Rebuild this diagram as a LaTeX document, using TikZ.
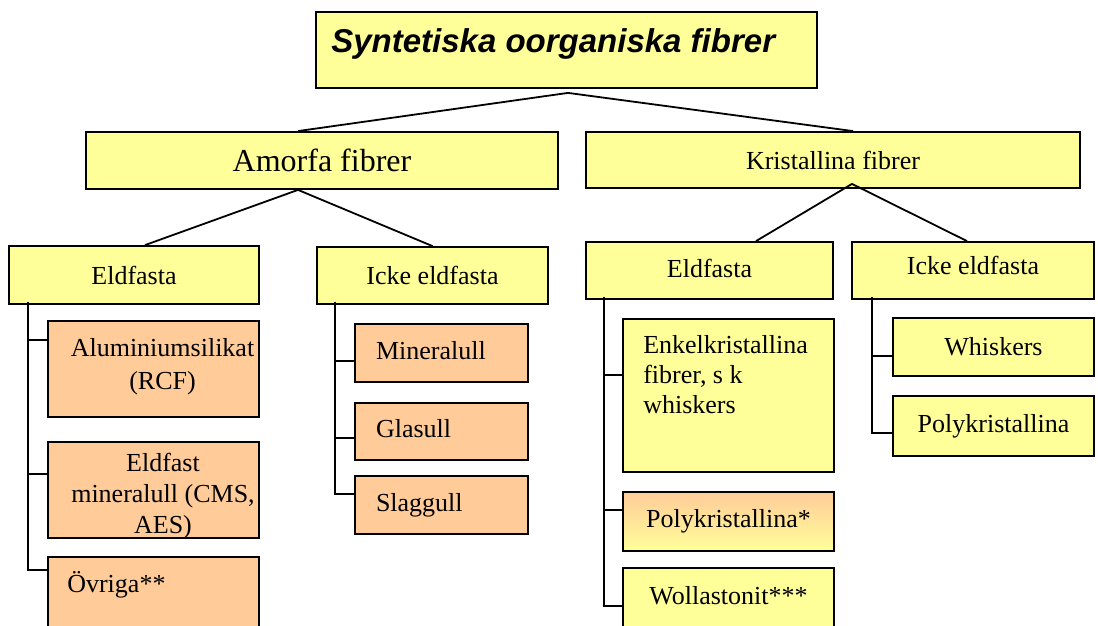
\documentclass[tikz,border=0pt]{standalone}
\usepackage{fontspec}
\setmainfont{Liberation Serif}
\newfontfamily\rubrikfont{Liberation Sans}
\usepackage{tikz}
\definecolor{gulfarg}{HTML}{FFFF99}
\definecolor{orangefarg}{HTML}{FFCC99}

\begin{document}
\begin{tikzpicture}[x=1pt,y=-1pt,
	ruta/.style={draw=black, line width=1.8pt, inner sep=0pt, font=\fontsize{26}{31}\selectfont},
	gruta/.style={ruta, fill=gulfarg},
	oruta/.style={ruta, fill=orangefarg},
	vtext/.style={text width=131pt, align=left, inner xsep=21pt, text height=18pt, text depth=6pt},
	linje/.style={line width=1.8pt}]
		\clip (0,0) rectangle (1098,626);
		
		% Rubrik
		\node[gruta, minimum width=501pt, minimum height=76pt] (rubrik) at (566.5,50) {};
		\node[anchor=base west, inner sep=0pt, font=\rubrikfont\bfseries\itshape\fontsize{33}{38}\selectfont] (rubriktext) at ([xshift=16pt,yshift=-41pt]rubrik.north west) {Syntetiska oorganiska fibrer};
		
		% Amorfa och kristallina
		\node[gruta, minimum width=472pt, minimum height=57pt, font=\fontsize{32}{38}\selectfont] (amorfa) at (322,160.5) {Amorfa fibrer};
		\node[gruta, minimum width=494pt, minimum height=56pt] (kristallina) at (833,160) {Kristallina fibrer};
		\coordinate (rubrikfot) at ([xshift=1.5pt,yshift=-4pt]rubrik.south);
		\draw[linje] ([xshift=-24pt]amorfa.north) -- (rubrikfot) -- ([xshift=20pt]kristallina.north);
		
		% Eldfasta / icke eldfasta
		\node[gruta, minimum width=250pt, minimum height=58pt] (eldfastA) at (134,275) {Eldfasta};
		\node[gruta, minimum width=231pt, minimum height=57pt] (ickeA) at (432.5,275.5) {Icke eldfasta};
		\node[gruta, minimum width=247pt, minimum height=57pt, text depth=5pt] (eldfastK) at (709.5,270.5) {Eldfasta};
		\node[gruta, minimum width=242pt, minimum height=57pt, text depth=10pt] (ickeK) at (973,270.5) {Icke eldfasta};
		\coordinate (amorfafot) at ([xshift=-24pt]amorfa.south);
		\coordinate (kristfot) at ([xshift=19pt,yshift=5pt]kristallina.south);
		\draw[linje] ([xshift=11pt]eldfastA.north) -- (amorfafot) -- (ickeA.north);
		\draw[linje] ([xshift=46.5pt]eldfastK.north) -- (kristfot) -- ([xshift=-6pt]ickeK.north);
		
		% Amorfa, eldfasta
		\node[oruta, minimum width=211pt, minimum height=96pt] (alusil) at (153.5,369) {};
		\node[oruta, minimum width=211pt, minimum height=96pt] (eldmin) at (153.5,490) {};
		\node[oruta, minimum width=211pt, minimum height=100pt] (ovriga) at (153.5,607) {};
		\node[align=center, inner sep=0pt, font=\fontsize{26}{33}\selectfont] (alusiltext) at (162.5,367) {Aluminiumsilikat\\(RCF)};
		\node[align=center, inner sep=0pt, font=\fontsize{26}{31}\selectfont] (eldmintext) at (163,496) {Eldfast\\mineralull (CMS,\\AES)};
		\node[anchor=base west, inner sep=0pt, font=\fontsize{26}{31}\selectfont] (ovrigatext) at ([xshift=20pt,yshift=-36pt]ovriga.north west) {Övriga**};
		\coordinate (stamA) at ([xshift=20pt,yshift=3pt]eldfastA.south west);
		\draw[linje] (stamA) |- ([yshift=-20pt]alusil.north west);
		\draw[linje] (stamA) |- ([yshift=-33pt]eldmin.north west);
		\draw[linje] (stamA) |- ([yshift=-14pt]ovriga.north west);
		
		% Amorfa, icke eldfasta
		\node[oruta, vtext, minimum width=173pt, minimum height=58pt] (mineralull) at (441.5,353) {Mineralull};
		\node[oruta, vtext, minimum width=173pt, minimum height=57pt] (glasull) at (441.5,431.5) {Glasull};
		\node[oruta, vtext, minimum width=173pt, minimum height=58pt] (slaggull) at (441.5,505) {Slaggull};
		\coordinate (stamI) at ([xshift=19pt,yshift=3pt]ickeA.south west);
		\draw[linje] (stamI) |- ([yshift=-38pt]mineralull.north west);
		\draw[linje] (stamI) |- ([yshift=-36pt]glasull.north west);
		\draw[linje] (stamI) |- ([yshift=-19pt]slaggull.north west);
		
		% Kristallina, eldfasta
		\node[gruta, minimum width=211pt, minimum height=153pt] (enkel) at (728.5,395.5) {};
		\node[anchor=north west, align=left, inner sep=0pt, font=\fontsize{26}{30}\selectfont] (enkeltext) at ([xshift=21pt,yshift=-17.3pt]enkel.north west) {Enkelkristallina\\fibrer, s k\\whiskers};
		\node[ruta, top color=orangefarg, bottom color=gulfarg, minimum width=211pt, minimum height=59pt] (polyE) at (728.5,521.5) {Polykristallina*};
		\node[gruta, minimum width=211pt, minimum height=60pt, text depth=6pt] (wollast) at (728.5,598) {Wollastonit***};
		\coordinate (stamE) at ([xshift=19pt,yshift=3pt]eldfastK.south west);
		\draw[linje] (stamE) |- ([yshift=-57pt]enkel.north west);
		\draw[linje] (stamE) |- ([yshift=-19pt]polyE.north west);
		\draw[linje] (stamE) |- ([yshift=-39pt]wollast.north west);
		
		% Kristallina, icke eldfasta
		\node[gruta, minimum width=201pt, minimum height=58pt] (whiskers) at (993.5,347) {Whiskers};
		\node[gruta, minimum width=201pt, minimum height=60pt] (polyI) at (993.5,426) {Polykristallina};
		\coordinate (stamK) at ([xshift=21pt,yshift=3pt]ickeK.south west);
		\draw[linje] (stamK) |- ([yshift=-39pt]whiskers.north west);
		\draw[linje] (stamK) |- ([yshift=-38pt]polyI.north west);
	\end{tikzpicture}
\end{document}
